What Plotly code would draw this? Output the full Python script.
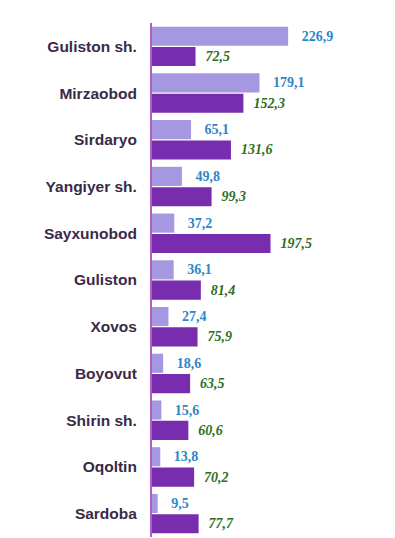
import plotly.graph_objects as go

categories = ["Guliston sh.", "Mirzaobod", "Sirdaryo", "Yangiyer sh.", "Sayxunobod",
              "Guliston", "Xovos", "Boyovut", "Shirin sh.", "Oqoltin", "Sardoba"]
series_a = [226.9, 179.1, 65.1, 49.8, 37.2, 36.1, 27.4, 18.6, 15.6, 13.8, 9.5]
series_b = [72.5, 152.3, 131.6, 99.3, 197.5, 81.4, 75.9, 63.5, 60.6, 70.2, 77.7]

def fmt(v):
    return f"{v:.1f}".replace(".", ",")

fig = go.Figure()
fig.add_trace(go.Bar(
    y=categories, x=series_a, orientation="h", name="A",
    marker=dict(color="#A597E0", line=dict(width=0)),
    text=["   <b>" + fmt(v) + "</b>" for v in series_a], textposition="outside",
    textfont=dict(family="Liberation Serif", size=14, color="#2F86C6"),
    cliponaxis=False, hoverinfo="skip",
))
fig.add_trace(go.Bar(
    y=categories, x=series_b, orientation="h", name="B",
    marker=dict(color="#772DAE", line=dict(width=0)),
    text=["  <b><i>" + fmt(v) + "</i></b>" for v in series_b], textposition="outside",
    textfont=dict(family="Liberation Serif", size=14, color="#2E6E1C"),
    cliponaxis=False, hoverinfo="skip",
))

fig.update_layout(
    width=395, height=538,
    margin=dict(l=152, r=0, t=23, b=1, autoexpand=False),
    paper_bgcolor="white", plot_bgcolor="white",
    barmode="group", bargap=0.13, bargroupgap=0.06,
    showlegend=False,
    xaxis=dict(range=[0, 405], visible=False, showgrid=False, zeroline=False),
    yaxis=dict(
        autorange="reversed", showgrid=False, zeroline=False, automargin=False,
        showline=True, linecolor="#B05CC8", linewidth=2,
        ticks="", ticklabelstandoff=10,
        tickfont=dict(family="Liberation Sans", size=15.5, color="#3A2A48", weight="bold"),
    ),
)
fig.write_html("out.html", config={"displayModeBar": False},
               post_script="document.body.style.margin='0';document.body.style.overflow='hidden';")
